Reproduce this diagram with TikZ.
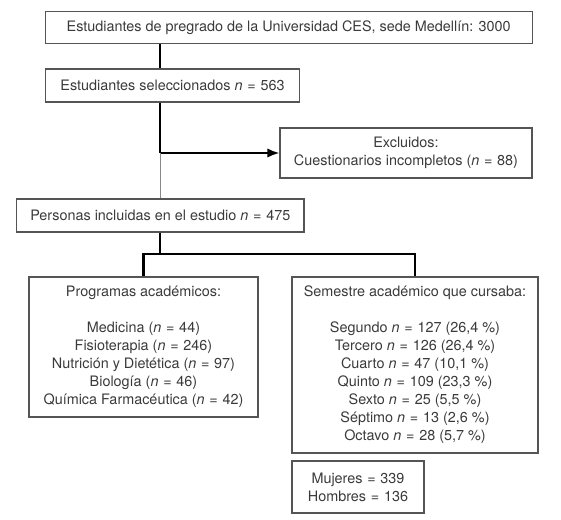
\documentclass[tikz,border=0pt]{standalone}
\usepackage{fontspec}
\setmainfont{TeX Gyre Heros}
\usetikzlibrary{arrows.meta}
\definecolor{txt}{HTML}{3A3A3A}
\definecolor{bord}{HTML}{555555}
\definecolor{thinline}{HTML}{888888}
\newcommand{\eqs}{\hspace{0.33em}=\hspace{0.33em}}
\begin{document}
\begin{tikzpicture}[x=0.75pt,y=-0.75pt,
  box/.style={draw=bord,line width=0.8pt,text=txt,align=center,inner sep=0pt,
    font=\fontsize{10.8}{13.5}\selectfont},
  conn/.style={line width=1.6pt,black},
  thinconn/.style={line width=0.7pt,thinline}]
\useasboundingbox (0,0) rectangle (561,520);
\node[box,minimum width=365pt,minimum height=23.7pt] (univ) at (288.7,27.5)
  {Estudiantes de pregrado de la Universidad CES, sede Medellín: 3000};
\node[box,minimum width=190pt,minimum height=24.75pt] (sel) at (172.5,85.5)
  {Estudiantes seleccionados \textit{n}\eqs 563};
\node[box,minimum width=189pt,minimum height=37.5pt] (excl) at (406,153)
  {Excluidos:\\Cuestionarios incompletos (\textit{n}\eqs 88)};
\node[box,minimum width=215.5pt,minimum height=24.75pt] (incl) at (160.3,215.5)
  {Personas incluidas en el estudio \textit{n}\eqs 475};
\node[box,minimum width=171.75pt,minimum height=105pt] (prog) at (143.5,347)
  {Programas académicos:\\[13.5pt]
   Medicina (\textit{n}\eqs 44)\\
   Fisioterapia (\textit{n}\eqs 246)\\
   Nutrición y Dietética (\textit{n}\eqs 97)\\
   Biología (\textit{n}\eqs 46)\\
   Química Farmacéutica (\textit{n}\eqs 42)};
\node[box,minimum width=184.5pt,minimum height=132pt] (sem) at (415,365)
  {Semestre académico que cursaba:\\[13.5pt]
   Segundo \textit{n}\eqs 127 (26,4 \%)\\
   Tercero \textit{n}\eqs 126 (26,4 \%)\\
   Cuarto \textit{n}\eqs 47 (10,1 \%)\\
   Quinto \textit{n}\eqs 109 (23,3 \%)\\
   Sexto \textit{n}\eqs 25 (5,5 \%)\\
   Séptimo \textit{n}\eqs 13 (2,6 \%)\\
   Octavo \textit{n}\eqs 28 (5,7 \%)};
\node[box,minimum width=99pt,minimum height=39pt] (sex) at (358,487)
  {Mujeres\eqs 339\\Hombres\eqs 136};
% connectors
\coordinate (split) at (incl.north |- excl.west);
\draw[conn] (univ.south -| incl.north) -- (sel.north -| incl.north);
\draw[conn] (sel.south -| incl.north) -- (split);
\draw[conn,-{Latex[length=9pt,width=7pt]}] (split) -- (excl.west);
\draw[thinconn] (split) -- (incl.north);
\coordinate (bus) at (prog.north |- 0,254);
\draw[conn] (incl.south) -- (incl.south |- bus);
\draw[conn] (prog.north) -- (bus) -| (sem.north);
\end{tikzpicture}
\end{document}
